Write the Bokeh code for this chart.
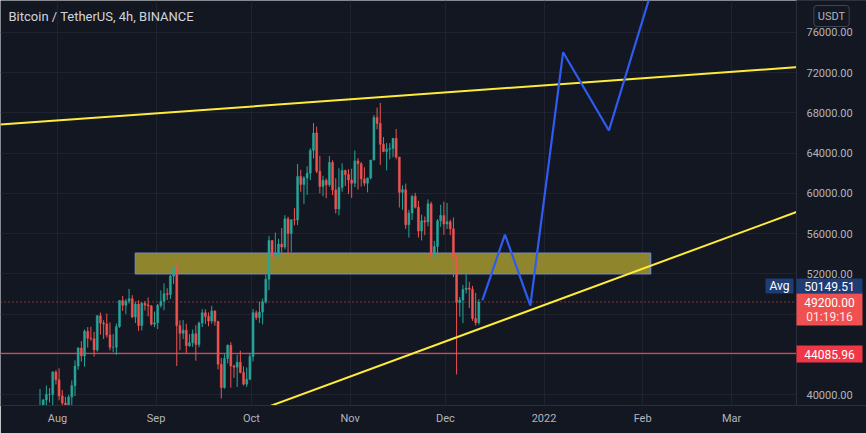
import pandas as pd
from bokeh.plotting import figure
from bokeh.models import Label, FixedTicker, NumeralTickFormatter, ColumnDataSource
from bokeh.embed import file_html
from bokeh.resources import INLINE

# ---------------- data (daily candles) ----------------
start_date = "2021-07-26"
opens = [35400, 37270, 39460, 40000, 40010, 42230,
         41460, 39850, 39150, 38200, 39740, 40880, 42830, 44620, 43830, 46290, 45590, 45550, 44420, 47830, 47100, 47020,
         45920, 44690, 44710, 46760, 49340, 48870, 49290, 49530, 47710, 48990, 46850, 49070, 48900, 48800, 46990,
         47130, 48850, 49280, 50030, 49940, 51770, 52660, 46860, 46080, 46400, 44850, 45150, 46030, 44960, 47110,
         48130, 47750, 47300, 48310, 47260, 43010, 40690, 43570, 44890, 42840, 42720, 43210, 42200, 41030, 41520,
         43790, 48140, 47660, 48200, 49220, 51470, 55320, 53790, 53950, 54960, 54660, 57470, 56000, 57370, 57350,
         61670, 60880, 61530, 62010, 64280, 66000, 62210, 60690, 61300, 60850, 63080, 60330, 58450, 60590, 62270, 61880,
         61320, 61000, 63230, 62940, 61440, 61010, 61530, 63310, 67550, 66950, 64880, 64160, 64400, 64470, 65470,
         63620, 60100, 60370, 56890, 58050, 59710, 58620, 56250, 57270, 57150, 58960, 53730, 54720, 57270, 57800,
         56950, 57180, 56480, 53600, 49150, 49400, 50440, 50590, 50470, 47550, 47140]
highs = [40550, 39540, 40900, 40640, 42320, 42420,
         42600, 40460, 39780, 39970, 41400, 43390, 44700, 45310, 46460, 46700, 46740, 46220, 47890, 48150, 47390,
         48050, 47160, 46000, 47050, 49380, 49800, 49500, 50500, 49880, 49250, 49370, 49200, 49300, 49650, 48900, 48250,
         49000, 50350, 51050, 50560, 51900, 52920, 52920, 47380, 47400, 47040, 45990, 46470, 46880, 47250, 48490,
         48480, 48160, 48820, 48370, 47330, 43640, 44000, 44980, 45200, 42960, 43950, 44350, 42790, 42690, 44130,
         48500, 48360, 49230, 49530, 51890, 55750, 55330, 56100, 55480, 56560, 57840, 57680, 57400, 58530, 62930,
         62350, 61720, 62700, 64490, 67000, 66640, 63730, 61750, 61490, 63710, 63290, 61500, 62500, 62980, 62360, 62410,
         62450, 64270, 63500, 63120, 62600, 61560, 63330, 67790, 68530, 69000, 65600, 65000, 65000, 65500, 66400,
         63620, 60800, 60970, 58370, 59850, 60050, 59270, 57880, 57700, 59400, 59170, 55280, 57440, 58870, 59180,
         59050, 57380, 57600, 53860, 49700, 50900, 51940, 51200, 50800, 50100, 49480]
lows = [35250, 36420, 38770, 39200, 38310, 41000,
        39420, 38690, 37640, 37510, 37330, 39850, 42450, 43260, 42780, 44660, 45350, 43770, 44250, 45960, 45520,
        45680, 44380, 44200, 43950, 46630, 48300, 48000, 49050, 47600, 47110, 46320, 46370, 48350, 47760, 46860, 46700,
        46510, 48630, 48370, 49400, 49500, 50970, 42830, 44410, 45510, 44130, 44730, 44740, 43370, 44690, 46700,
        47020, 46780, 47040, 46840, 42500, 39600, 40570, 43090, 40680, 41650, 40750, 42100, 40890, 40750, 41420,
        43280, 47430, 47120, 46970, 49040, 50380, 53360, 53620, 53660, 54100, 54420, 53880, 54150, 56820, 56850,
        60150, 58960, 59850, 61320, 63480, 62000, 60000, 59710, 59520, 60650, 59820, 58000, 57820, 60170, 60720, 59930,
        59550, 60620, 60380, 60680, 60720, 60100, 61380, 63290, 66380, 62820, 64100, 62280, 63380, 63580, 63400,
        58600, 58370, 56470, 55600, 57350, 58500, 55610, 55320, 55840, 56720, 53500, 53610, 53330, 56670, 55880,
        56460, 55840, 51680, 42000, 47730, 47100, 50040, 48600, 47320, 46850, 46930]
closes = [37270, 39460, 40000, 40010, 42230, 41460,
          39850, 39150, 38200, 39740, 40880, 42830, 44620, 43830, 46290, 45590, 45550, 44420, 47830, 47100, 47020,
          45920, 44690, 44710, 46760, 49340, 48870, 49290, 49530, 47710, 48990, 46850, 49070, 48900, 48800, 46990, 47130,
          48850, 49280, 50030, 49940, 51770, 52660, 46860, 46080, 46400, 44850, 45150, 46030, 44960, 47110, 48130,
          47750, 47300, 48310, 47260, 43010, 40690, 43570, 44890, 42840, 42720, 43210, 42200, 41030, 41520, 43790,
          48140, 47660, 48200, 49220, 51470, 55320, 53790, 53950, 54960, 54660, 57470, 56000, 57370, 57350, 61670,
          60880, 61530, 62010, 64280, 66000, 62210, 60690, 61300, 60850, 63080, 60330, 58450, 60590, 62270, 61880, 61320,
          61000, 63230, 62940, 61440, 61010, 61530, 63310, 67550, 66950, 64880, 64160, 64400, 64470, 65470, 63620,
          60100, 60370, 56890, 58050, 59710, 58620, 56250, 57270, 57150, 58960, 53730, 54720, 57270, 57800, 56950,
          57180, 56480, 53600, 49150, 49400, 50440, 50590, 50470, 47550, 47140, 49200]

month_labels = ["Aug", "Sep", "Oct", "Nov", "Dec", "2022", "Feb", "Mar"]
month_dates = ["2021-08-01", "2021-09-01", "2021-10-01", "2021-11-01", "2021-12-01",
               "2022-01-01", "2022-02-01", "2022-03-01"]
price_ticks = [40000, 44000, 48000, 52000, 56000, 60000, 64000, 68000, 72000, 76000]

# drawings (date-offset in days from Aug 1, price)
upper_line_days = [-18, 233]
upper_line_prices = [66845, 72560]
lower_line_days = [66, 233]
lower_line_prices = [38750, 58220]
zone_days = [24.5, 186.5]
zone_prices = [52000, 54050]
path_days = [133.6, 140.7, 148.7, 159.0, 173.4, 190.0]
path_prices = [49350, 55900, 48850, 74040, 66250, 83450]
level_price = 44085.96
last_price = 49200.00
avg_price = 50149.51
countdown = "01:19:16"
title_text = "Bitcoin / TetherUS, 4h, BINANCE"

# ---------------- geometry helpers ----------------
origin = pd.Timestamp("2021-08-01")
XS = 3.18          # px per day
X0 = -57 / XS      # day at left edge
YS = 0.010056      # px per USDT
Y_TOP = 40000 + 394 / YS
PANE_W, FRAME_W, FRAME_H = 796, 866, 405


def dx(px):
    return X0 + px / XS


def dy(py):
    return Y_TOP - py / YS


dates = pd.date_range(start_date, periods=len(closes), freq="D")
days = [(d - origin).days + 0.5 for d in dates]
up = "#26a69a"
dn = "#ef5350"
colors = [up if c >= o else dn for o, c in zip(opens, closes)]
src = ColumnDataSource(dict(
    x=days, open=opens, high=highs, low=lows, close=closes, color=colors,
    top=[max(o, c) for o, c in zip(opens, closes)],
    bottom=[min(o, c) for o, c in zip(opens, closes)],
))

month_ticks = [(pd.Timestamp(m) - origin).days for m in month_dates]

FONT = "Roboto"
BG = "#131722"
TXT = "#B2B5BE"

p = figure(width=866, height=433, x_range=(dx(0), dx(FRAME_W)), y_range=(dy(FRAME_H), dy(0)),
           y_axis_location="right", output_backend="svg", toolbar_location=None,
           min_border_left=0, min_border_top=0, min_border_right=0,
           min_border_bottom=433 - FRAME_H, background_fill_color=BG, border_fill_color=BG,
           outline_line_color=None)

# axes
p.xaxis.ticker = FixedTicker(ticks=month_ticks)
p.xaxis.major_label_overrides = {t: l for t, l in zip(month_ticks, month_labels)}
p.yaxis.ticker = FixedTicker(ticks=price_ticks)
p.yaxis.formatter = NumeralTickFormatter(format="0.00")
p.yaxis.fixed_location = dx(PANE_W)
for ax in (p.xaxis[0], p.yaxis[0]):
    ax.axis_line_color = "#2a2e39"
    ax.major_tick_line_color = None
    ax.minor_tick_line_color = None
    ax.major_label_text_color = TXT
    ax.major_label_text_font = FONT
    ax.major_label_text_font_size = "11px"
p.yaxis.major_label_standoff = 4
p.xaxis.major_label_standoff = 0

p.xgrid.ticker = FixedTicker(ticks=month_ticks)
p.ygrid.ticker = FixedTicker(ticks=price_ticks)
p.grid.grid_line_color = "#1f2330"

# price-scale background (hides grid lines beyond the pane)
p.quad(left=[dx(PANE_W)], right=[dx(FRAME_W + 2)], bottom=[dy(FRAME_H + 2)], top=[dy(-2)],
       fill_color=BG, line_color=None)

# zone
p.quad(left=[zone_days[0]], right=[zone_days[1]], bottom=[zone_prices[0]], top=[zone_prices[1]],
       fill_color="#8e852c", fill_alpha=1.0, line_color="#6f86bd", line_width=1.5)

# levels (stop at the price scale)
p.line([dx(0), dx(PANE_W)], [level_price, level_price], line_color="#f7374a", line_width=1.3)
p.line([dx(0), dx(PANE_W)], [last_price, last_price], line_color="#ef5350", line_width=1,
       line_dash="1 3")

# candles
p.segment(x0="x", y0="low", x1="x", y1="high", color="color", line_width=1, source=src)
p.vbar(x="x", width=0.62, top="top", bottom="bottom", fill_color="color", line_color="color",
       line_width=0.5, source=src)

# trend lines
p.line(upper_line_days, upper_line_prices, line_color="#ffeb3b", line_width=2)
p.line(lower_line_days, lower_line_prices, line_color="#ffeb3b", line_width=2)
p.line(path_days, path_prices, line_color="#2f5cf0", line_width=2.2)
# re-cover the price scale so drawings stop at the pane edge
p.quad(left=[dx(PANE_W + 0.5)], right=[dx(FRAME_W + 2)], bottom=[dy(FRAME_H + 2)], top=[dy(-2)],
       fill_color=BG, line_color=None)


def box(x0, x1, y0, y1, color):
    p.quad(left=[dx(x0)], right=[dx(x1)], top=[dy(y0)], bottom=[dy(y1)],
           fill_color=color, line_color=None, level="overlay")


def text(px, py, s, color="#ffffff", size="12px", align="center"):
    p.add_layout(Label(x=px, y=py, x_units="canvas", y_units="canvas", text=s,
                       text_align=align, text_baseline="middle", text_color=color,
                       text_font=FONT, text_font_size=size, level="overlay"))


# title
text(8, 16, title_text, color="#D1D4DC", size="13px", align="left")

# right-side price tags
box(765, 793, 278, 293, "#1f3d75")
text(779, 285.5, "Avg")
box(796, 862, 278, 293, "#1f3d75")
text(829, 285.5, f"{avg_price:.2f}")
box(796, 862, 293, 325, "#f0504f")
text(829, 302, f"{last_price:.2f}")
text(829, 316, countdown, color="#fde8e8")
box(796, 862, 345, 362, "#f23645")
text(829, 353.5, f"{level_price:.2f}")
p.add_layout(Label(x=831, y=15.5, x_units="canvas", y_units="canvas", text="USDT",
                   text_align="center", text_baseline="middle", text_color=TXT,
                   text_font=FONT, text_font_size="11px", background_fill_color=BG,
                   border_line_color="#434651", border_radius=3, padding=4, level="overlay"))

open("out.html", "w").write(file_html(p, INLINE))
